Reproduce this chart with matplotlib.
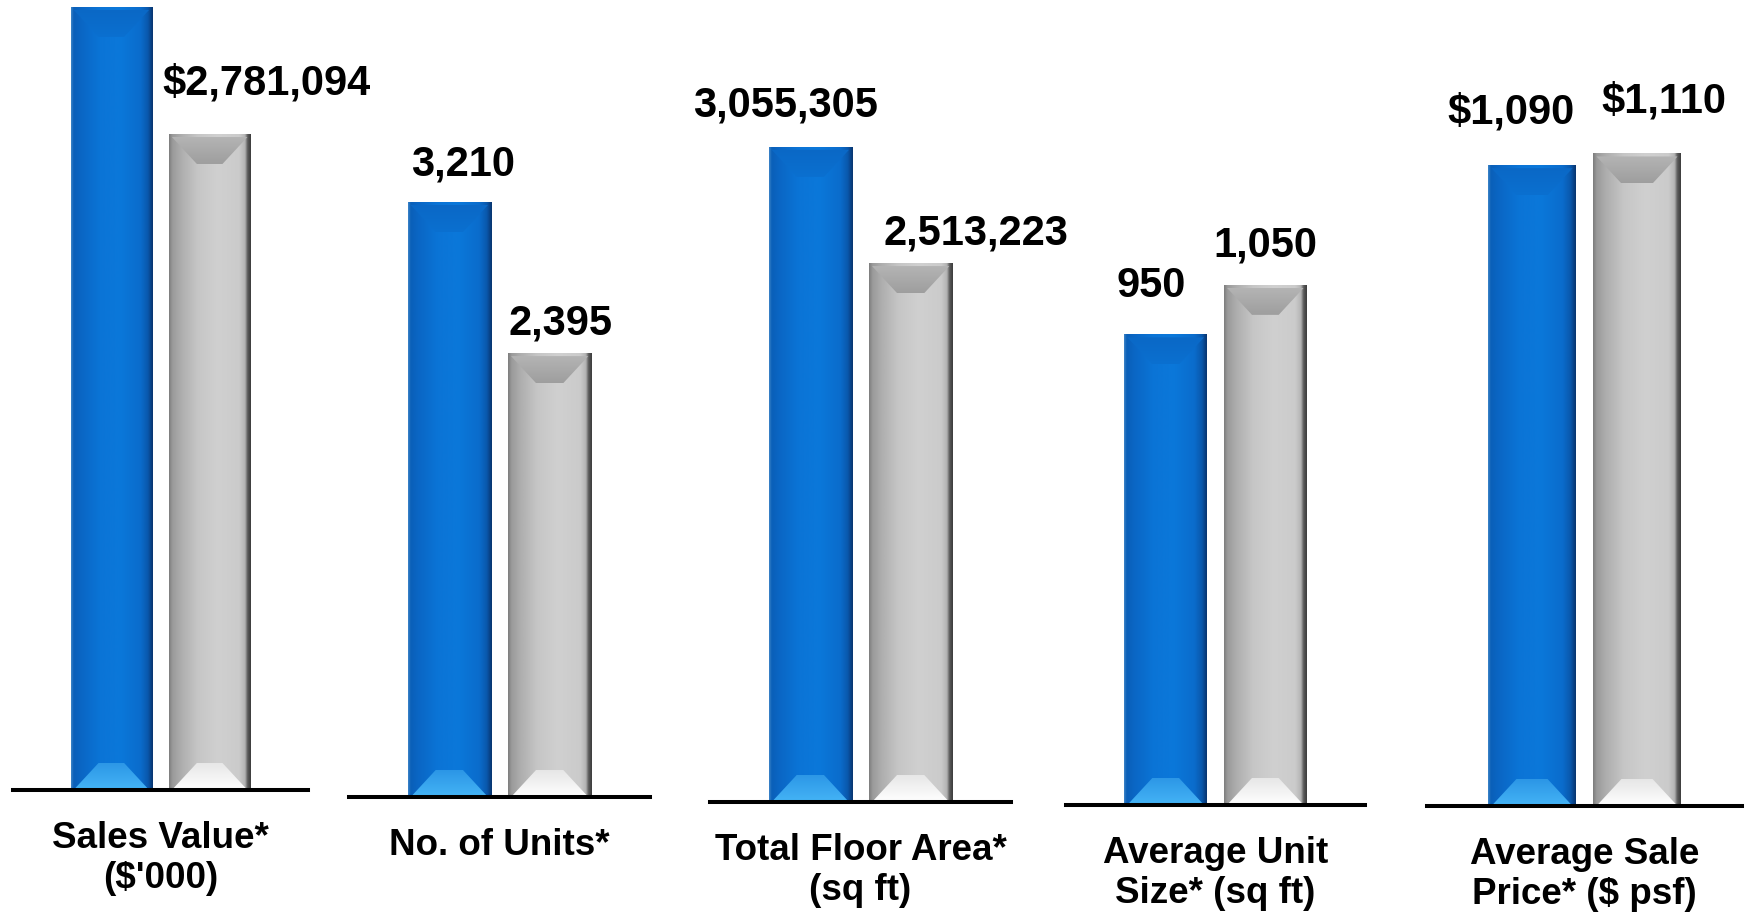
import matplotlib
matplotlib.use("Agg")
import matplotlib.pyplot as plt
import numpy as np
from matplotlib.colors import LinearSegmentedColormap
from matplotlib.patches import Polygon

# five metrics, each with its own scale (blue = current, grey = previous)
categories = ["Sales Value*\n($'000)", "No. of Units*", "Total Floor Area*\n(sq ft)",
              "Average Unit\nSize* (sq ft)", "Average Sale\nPrice* ($ psf)"]
blue_vals = [3320000, 3210, 3055305, 950, 1090]
grey_vals = [2781094, 2395, 2513223, 1050, 1110]
prefixes = ["$", "", "", "", "$"]
show_blue_label = [False, True, True, True, True]

# layout in pixels
W, H = 1747, 913
panel_left = [13, 349, 710, 1066, 1427]
panel_right = [308, 650, 1011, 1365, 1742]
baseline = [790, 797, 802, 805, 806]
ymax = [3.349e6, 4300, 3.74e6, 1625, 1371]
blue_dx = [0, 14, -25, -14, -21]
blue_dy = [0, 27, 30, 37, 42]
grey_dx = [57, 11, 65, 0, 27]
grey_dy = [39, 19, 19, 28, 41]

plt.rcParams['font.family'] = ['Liberation Sans', 'DejaVu Sans']

styles = {
    'blue': dict(
        body=[(0, '#3f86c8'), (0.03, '#0a5fb8'), (0.12, '#0a66c4'), (0.35, '#0b74d6'),
              (0.6, '#0b78da'), (0.85, '#0a6ccc'), (0.94, '#0a58ac'), (1, '#08346e')],
        top=[(0, '#0b70d0'), (1, '#0a68c6')],
        bottom=[(0, '#45b4f6'), (1, '#2b96e6')]),
    'grey': dict(
        body=[(0, '#7c7c7c'), (0.04, '#9a9a9a'), (0.15, '#aeaeae'), (0.35, '#c6c6c6'),
              (0.6, '#d0d0d0'), (0.86, '#cbcbcb'), (0.93, '#b4b4b4'), (0.96, '#5c5c5c'),
              (1, '#3c3c3c')],
        top=[(0, '#9e9e9e'), (1, '#b4b4b4')],
        bottom=[(0, '#ffffff'), (1, '#e6e6e6')]),
}


def shade(ax, patch, stops, extent, vertical=False, z=2):
    cmap = LinearSegmentedColormap.from_list('shade', stops)
    g = np.linspace(0, 1, 256)
    img = g[:, None] if vertical else g[None, :]
    im = ax.imshow(img, cmap=cmap, extent=extent, aspect='auto', origin='lower',
                   interpolation='bicubic', zorder=z)
    im.set_clip_path(patch)


def bevel_bar(ax, bar, style, sx, sy):
    x0, w, h = bar.get_x(), bar.get_width(), bar.get_height()
    x1 = x0 + w
    st = styles[style]
    shade(ax, bar, st['body'], (x0, x1, 0, h))
    # chamfered top and bottom faces
    ex, et = 3 / sx, 3 / sy
    dx, dy = 25 / sx, 27 / sy
    top = Polygon([(x0 + ex, h - et), (x1 - ex, h - et), (x1 - ex - dx, h - et - dy),
                   (x0 + ex + dx, h - et - dy)], closed=True, facecolor='none',
                  edgecolor='none')
    ax.add_patch(top)
    shade(ax, top, st['top'], (x0, x1, h - et - dy, h - et), vertical=True, z=2.1)
    bot = Polygon([(x0 + ex, 0), (x1 - ex, 0), (x1 - ex - dx, dy), (x0 + ex + dx, dy)],
                  closed=True, facecolor='none', edgecolor='none')
    ax.add_patch(bot)
    shade(ax, bot, st['bottom'], (x0, x1, 0, dy), vertical=True, z=2.1)


fig = plt.figure(figsize=(W / 100, H / 100), dpi=100, facecolor='white')

for i in range(len(categories)):
    wpx = panel_right[i] - panel_left[i]
    ax = fig.add_axes([panel_left[i] / W, (H - baseline[i]) / H, wpx / W, baseline[i] / H])
    ax.patch.set_visible(False)
    bars = ax.bar([0, 1], [blue_vals[i], grey_vals[i]], width=0.83, color='none',
                  edgecolor='none', zorder=2)
    sx, sy = wpx / 3, baseline[i] / ymax[i]
    bevel_bar(ax, bars[0], 'blue', sx, sy)
    bevel_bar(ax, bars[1], 'grey', sx, sy)
    ax.set_xlim(-1, 2)
    ax.set_ylim(0, ymax[i])

    for sp in ['top', 'left', 'right']:
        ax.spines[sp].set_visible(False)
    ax.spines['bottom'].set_linewidth(2.9)
    ax.spines['bottom'].set_zorder(5)
    ax.set_xticks([])
    ax.set_yticks([])

    if show_blue_label[i]:
        ax.annotate(f"{prefixes[i]}{blue_vals[i]:,}", xy=(0, blue_vals[i]),
                    xytext=(blue_dx[i], blue_dy[i]), textcoords='offset pixels',
                    ha='center', va='baseline', fontsize=30, fontweight='bold',
                    annotation_clip=False)
    ax.annotate(f"{prefixes[i]}{grey_vals[i]:,}", xy=(1, grey_vals[i]),
                xytext=(grey_dx[i], grey_dy[i]), textcoords='offset pixels',
                ha='center', va='baseline', fontsize=30, fontweight='bold',
                annotation_clip=False)
    ax.annotate(categories[i], xy=(0.5, 0), xycoords='axes fraction',
                xytext=(0, -31), textcoords='offset pixels', ha='center', va='top',
                fontsize=26.5, fontweight='bold', linespacing=1.2,
                annotation_clip=False)

fig.savefig('out.png', dpi=100, facecolor='white')
